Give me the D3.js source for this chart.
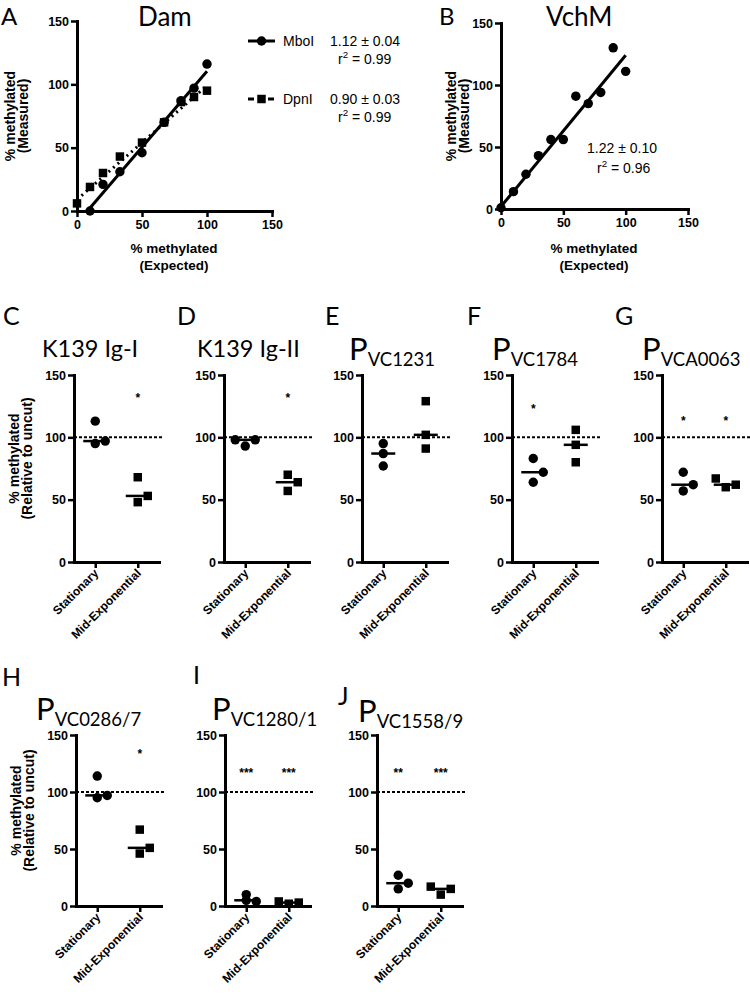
<!DOCTYPE html>
<html><head><meta charset="utf-8">
<script src="https://cdn.jsdelivr.net/npm/d3@7"></script>
<style>body{margin:0;background:#fff}</style>
</head><body>
<script>
// ---------------- DATA ----------------
const yTicks = [0, 50, 100, 150];
const xTicksAB = [0, 50, 100, 150];

// Panel A (Dam)
const mboIExpected = [10, 20, 33, 50, 67, 80, 90, 100];
const mboIMeasured = [0, 21, 31, 46, 70, 87, 97, 116];
const dpnIExpected = [0, 10, 20, 33, 50, 67, 80, 90, 100];
const dpnIMeasured = [6, 19, 30, 43, 54, 70, 86, 90, 95];
const mboIFit = {slope: 1.20, intercept: -9.6};
const dpnIFit = {slope: 0.90, intercept: 9};
const legendNames = ["MboI", "DpnI"];
const legendSlopes = ["1.12 ± 0.04", "0.90 ± 0.03"];
const legendR2 = ["0.99", "0.99"];

// Panel B (VchM)
const vchMExpected = [0, 10, 20, 30, 40, 50, 60, 70, 80, 90, 100];
const vchMMeasured = [1, 14, 28, 43, 56, 56, 91, 85, 94, 130, 111];
const vchMFit = {slope: 1.22, intercept: 2};
const vchMSlope = "1.22 ± 0.10";
const vchMR2 = "0.96";

// Panels C-J
const categories = ["Stationary", "Mid-Exponential"];
const panelLetters = ["C", "D", "E", "F", "G", "H", "I", "J"];
const titleMain = ["K139 Ig-I", "K139 Ig-II", "P", "P", "P", "P", "P", "P"];
const titleSub = ["", "", "VC1231", "VC1784", "VCA0063", "VC0286/7", "VC1280/1", "VC1558/9"];
const stationaryVals = [[113, 95, 97], [98, 93, 98], [95, 87, 77], [83, 72, 64], [72, 62, 57], [114, 95, 97], [10, 5, 4], [27, 15, 20]];
const midExpVals = [[68, 48, 53], [70, 57, 64], [129, 102, 91], [106, 94, 80], [67, 60, 62], [67, 46, 51], [4, 2, 3], [17, 10, 15]];
const stationarySig = ["", "", "", "*", "*", "", "***", "**"];
const midExpSig = ["*", "*", "", "", "*", "*", "***", "***"];
const referenceLevel = 100;

// ---------------- LAYOUT ----------------
const panelAxisX = [74, 224, 362, 512, 662, 76, 225, 377];
const panelRow = [0, 0, 0, 0, 0, 1, 1, 1];
const rowY0 = [562, 906], rowY150 = [375, 735];
const axisLen = 85;
const sigLevel = [133, 133, 0, 124, 115, 135, 118, 118];
const statSlots = [[0, 0, 1], [-1, 0, 1], [0, 0, 0], [0, 1, 0], [0, 1, 0], [0, 0, 1], [0, 0, 1], [0, 0, 1]];
const midSlots = [[0, 0, 1], [0, 0, 1], [0, 0, 0], [0, 0, 0], [-1, 0, 1], [0, 0, 1], [-1, 0, 1], [-1, 0, 1]];
const letterPos = [[3, 325], [177, 325], [325, 325], [467, 325], [615, 325], [2, 686], [193, 684], [338, 705]];
const titlePos = [[42, 357], [197, 357], [349, 360], [492, 360], [642, 360], [36, 720], [212, 720], [358, 722]];

const AX_FONT = "'Liberation Sans', Arial, Helvetica, sans-serif";
const T_FONT = "Lato, 'Open Sans', sans-serif";

const svg = d3.select("body").append("svg").attr("width", 750).attr("height", 996)
  .style("background", "#fff");

function styleAxis(g) {
  g.select(".domain").attr("stroke", "#000").attr("stroke-width", 3).attr("stroke-linecap", "square");
  g.selectAll(".tick line").attr("stroke", "#000").attr("stroke-width", 2.5);
  g.selectAll(".tick text").attr("font-family", AX_FONT).attr("font-weight", "bold")
    .attr("font-size", 12.5).attr("fill", "#000");
}
function txt(x, y, s, size, font, opts = {}) {
  const t = svg.append("text").attr("x", x).attr("y", y).text(s)
    .attr("font-size", size).attr("font-family", font).attr("fill", "#000");
  if (opts.bold) t.attr("font-weight", "bold");
  if (opts.anchor) t.attr("text-anchor", opts.anchor);
  return t;
}
function rotTitle(x, y, lines, gap) {
  lines.forEach((l, i) => {
    svg.append("text").attr("transform", `translate(${x + i * gap},${y}) rotate(-90)`)
      .attr("text-anchor", "middle").attr("dominant-baseline", "central")
      .attr("font-family", AX_FONT).attr("font-weight", "bold").attr("font-size", 14).text(l);
  });
}
function r2Text(x, y, val, size) {
  const t = svg.append("text").attr("x", x).attr("y", y).attr("font-family", AX_FONT)
    .attr("font-size", size).attr("fill", "#000");
  t.append("tspan").text("r");
  t.append("tspan").text("2").attr("font-size", size * 0.7).attr("dy", -size * 0.4);
  t.append("tspan").text(" = " + val).attr("dy", size * 0.4);
}
function fitSegment(fit, xMin, xMax) {
  const x0 = Math.max(xMin, -fit.intercept / fit.slope);
  return [[x0, fit.slope * x0 + fit.intercept], [xMax, fit.slope * xMax + fit.intercept]];
}
const circleSym = d3.symbol().type(d3.symbolCircle).size(70);
const squareSym = d3.symbol().type(d3.symbolSquare).size(72);

// ---------------- Panel A ----------------
{
  const x = d3.scaleLinear().domain([0, 150]).range([77, 272]);
  const y = d3.scaleLinear().domain([0, 150]).range([211, 21]);
  svg.append("g").attr("transform", `translate(0,${y(0)})`)
    .call(d3.axisBottom(x).tickValues(xTicksAB).tickSize(6).tickSizeOuter(0).tickPadding(3)).call(styleAxis);
  svg.append("g").attr("transform", `translate(${x(0)},0)`)
    .call(d3.axisLeft(y).tickValues(yTicks).tickSize(6).tickSizeOuter(0).tickPadding(2)).call(styleAxis);
  const line = d3.line().x(d => x(d[0])).y(d => y(d[1]));
  svg.append("path").attr("d", line(fitSegment(dpnIFit, 0, 100))).attr("stroke", "#000")
    .attr("stroke-width", 3).attr("stroke-dasharray", "2,4").attr("fill", "none");
  svg.append("path").attr("d", line(fitSegment(mboIFit, 0, 100))).attr("stroke", "#000")
    .attr("stroke-width", 3).attr("fill", "none");
  svg.selectAll(".dpn").data(dpnIExpected).enter().append("path")
    .attr("d", squareSym).attr("transform", (d, i) => `translate(${x(d)},${y(dpnIMeasured[i])})`);
  svg.selectAll(".mbo").data(mboIExpected).enter().append("path")
    .attr("d", circleSym).attr("transform", (d, i) => `translate(${x(d)},${y(mboIMeasured[i])})`);
  txt(1, 25, "A", 24, T_FONT);
  txt(138, 26, "Dam", 26, T_FONT);
  rotTitle(10, 116, ["% methylated", "(Measured)"], 12.5);
  txt(174, 253, "% methylated", 13.5, AX_FONT, {bold: true, anchor: "middle"});
  txt(174, 270, "(Expected)", 13.5, AX_FONT, {bold: true, anchor: "middle"});
  // legend
  const ly = [41, 99];
  legendNames.forEach((n, i) => {
    const l = svg.append("line").attr("x1", 248).attr("x2", 275).attr("y1", ly[i]).attr("y2", ly[i])
      .attr("stroke", "#000").attr("stroke-width", 3);
    if (i === 1) l.attr("stroke-dasharray", "6,4");
    svg.append("path").attr("d", i === 0 ? circleSym : squareSym).attr("transform", `translate(261.5,${ly[i]})`);
    txt(283, ly[i] + 5, n, 14, AX_FONT);
    txt(330, ly[i] + 5, legendSlopes[i], 14, AX_FONT);
    r2Text(338, ly[i] + 23, legendR2[i], 14);
  });
}

// ---------------- Panel B ----------------
{
  const x = d3.scaleLinear().domain([0, 150]).range([501, 688]);
  const y = d3.scaleLinear().domain([0, 150]).range([209, 23]);
  svg.append("g").attr("transform", `translate(0,${y(0)})`)
    .call(d3.axisBottom(x).tickValues(xTicksAB).tickSize(6).tickSizeOuter(0).tickPadding(3)).call(styleAxis);
  svg.append("g").attr("transform", `translate(${x(0)},0)`)
    .call(d3.axisLeft(y).tickValues(yTicks).tickSize(6).tickSizeOuter(0).tickPadding(2)).call(styleAxis);
  const line = d3.line().x(d => x(d[0])).y(d => y(d[1]));
  svg.append("path").attr("d", line(fitSegment(vchMFit, 0, 100))).attr("stroke", "#000")
    .attr("stroke-width", 3).attr("fill", "none");
  svg.selectAll(".vch").data(vchMExpected).enter().append("path")
    .attr("d", circleSym).attr("transform", (d, i) => `translate(${x(d)},${y(vchMMeasured[i])})`);
  txt(439, 25, "B", 24, T_FONT);
  txt(546, 26, "VchM", 26, T_FONT);
  rotTitle(451, 116, ["% methylated", "(Measured)"], 13);
  txt(594, 253, "% methylated", 13.5, AX_FONT, {bold: true, anchor: "middle"});
  txt(594, 270, "(Expected)", 13.5, AX_FONT, {bold: true, anchor: "middle"});
  txt(587, 153, vchMSlope, 14, AX_FONT);
  r2Text(597, 173, vchMR2, 14);
}

// ---------------- Panels C-J ----------------
panelLetters.forEach((letter, p) => {
  const row = panelRow[p];
  const x0 = panelAxisX[p];
  const y = d3.scaleLinear().domain([0, 150]).range([rowY0[row], rowY150[row]]);
  const x = d3.scalePoint().domain(categories).range([x0, x0 + axisLen]).padding(0.5);
  // reference line
  svg.append("line").attr("x1", x0).attr("x2", x0 + axisLen + 3).attr("y1", y(referenceLevel)).attr("y2", y(referenceLevel))
    .attr("stroke", "#000").attr("stroke-width", 2).attr("stroke-dasharray", "3,2");
  svg.append("g").attr("transform", `translate(0,${y(0)})`)
    .call(d3.axisBottom(x).tickSize(6).tickSizeOuter(0).tickFormat("")).call(styleAxis);
  svg.append("g").attr("transform", `translate(${x0},0)`)
    .call(d3.axisLeft(y).tickValues(yTicks).tickSize(6).tickSizeOuter(0).tickPadding(2)).call(styleAxis);
  categories.forEach(c => {
    svg.append("text").attr("transform", `translate(${x(c) + 4},${y(0) + 12}) rotate(-45)`)
      .attr("text-anchor", "end").attr("font-family", AX_FONT).attr("font-weight", "bold")
      .attr("font-size", 12).text(c);
  });
  const groups = [
    {cat: categories[0], vals: stationaryVals[p], slots: statSlots[p], sym: circleSym, sig: stationarySig[p]},
    {cat: categories[1], vals: midExpVals[p], slots: midSlots[p], sym: squareSym, sig: midExpSig[p]}
  ];
  groups.forEach(gr => {
    const cx = x(gr.cat);
    const med = d3.median(gr.vals);
    svg.append("line").attr("x1", cx - 12).attr("x2", cx + 12).attr("y1", y(med)).attr("y2", y(med))
      .attr("stroke", "#000").attr("stroke-width", 2.5);
    svg.selectAll(null).data(gr.vals).enter().append("path").attr("d", gr.sym)
      .attr("transform", (d, i) => `translate(${cx + gr.slots[i] * 10},${y(d)})`);
    if (gr.sig) {
      svg.append("text").attr("x", cx).attr("y", y(sigLevel[p]) + 6).attr("text-anchor", "middle")
        .attr("font-family", AX_FONT).attr("font-weight", "bold").attr("font-size", 12).text(gr.sig);
    }
  });
  txt(letterPos[p][0], letterPos[p][1], letter, 25, T_FONT);
  const t = svg.append("text").attr("x", titlePos[p][0]).attr("y", titlePos[p][1])
    .attr("font-family", T_FONT).attr("fill", "#000");
  if (titleSub[p]) {
    t.append("tspan").text(titleMain[p]).attr("font-size", 31);
    t.append("tspan").text(titleSub[p]).attr("font-size", 18.5).attr("dy", 6);
  } else {
    t.append("tspan").text(titleMain[p]).attr("font-size", 23.5);
  }
  if (p === 0 || p === 5) {
    const yc = (y(0) + y(150)) / 2 - 10;
    rotTitle(x0 - 60, yc, ["% methylated", "(Relative to uncut)"], 13);
  }
});
</script>
</body></html>
